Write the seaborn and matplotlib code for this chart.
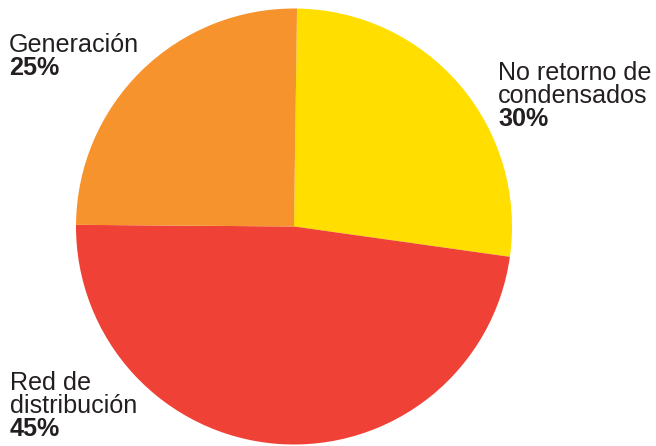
import matplotlib
matplotlib.use("Agg")
import matplotlib.pyplot as plt
import seaborn as sns

# Slice shares as drawn (measured from slice angles) and the printed labels
categories = ["No retorno de condensados", "Red de distribución", "Generación"]
slice_shares = [27.0, 47.9, 25.1]
name_lines = [["No retorno de", "condensados"], ["Red de", "distribución"], ["Generación"]]
pct_labels = ["30%", "45%", "25%"]
colors = ["#FFDE00", "#EF4136", "#F7932D"]

sns.set_theme(style="white")
plt.rcParams["font.family"] = ["Liberation Sans", "DejaVu Sans"]

W, H = 656, 446
fig = plt.figure(figsize=(W / 100, H / 100), dpi=100)
fig.patch.set_facecolor("white")

cx, cy, r = 294, 226.5, 218
ax = fig.add_axes([(cx - r) / W, (H - cy - r) / H, 2 * r / W, 2 * r / H])
ax.pie(slice_shares, colors=colors, startangle=89.2, counterclock=False,
       wedgeprops=dict(linewidth=0, antialiased=True))
ax.set_xlim(-1, 1)
ax.set_ylim(-1, 1)
ax.set_aspect("equal")
ax.axis("off")

txt_color = "#231F20"
fs = 18.1
# label anchor (left x, first baseline y) in pixels from top-left
anchors = [(498, 79.5), (10, 389.5), (9, 51.7)]
line_gap = 23.2
for (x, y0), names, pct in zip(anchors, name_lines, pct_labels):
    y = y0
    for ln in names:
        fig.text(x / W, 1 - y / H, ln, fontsize=fs, color=txt_color,
                 ha="left", va="baseline")
        y += line_gap
    fig.text(x / W, 1 - y / H, pct, fontsize=fs, color=txt_color,
             fontweight="bold", ha="left", va="baseline")

fig.savefig("out.png", dpi=100, facecolor="white")
